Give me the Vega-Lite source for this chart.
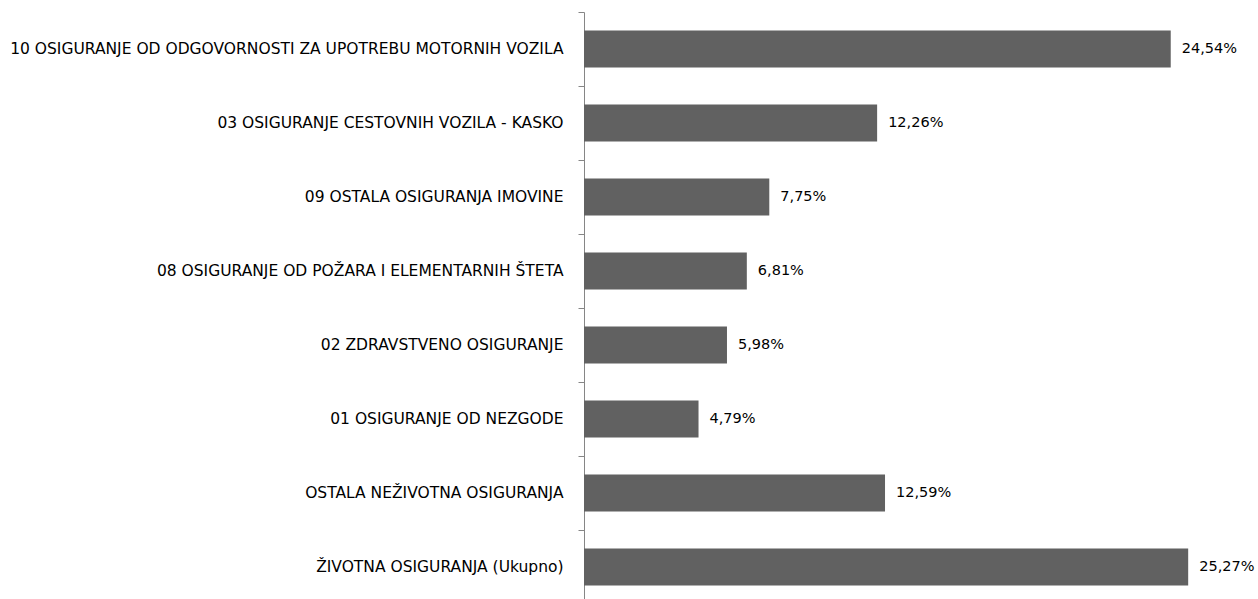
{
  "$schema": "https://vega.github.io/schema/vega-lite/v6.json",
  "autosize": {"type": "none"},
  "padding": {"left": 584, "top": 12, "right": 0, "bottom": 0},
  "width": 674,
  "height": 592,
  "background": "white",
  "config": {
    "view": {"stroke": null},
    "locale": {"number": {"decimal": ",", "thousands": ".", "grouping": [3], "currency": ["", ""]}},
    "font": "DejaVu Sans"
  },
  "data": {"values": [
    {"kategorija": "10 OSIGURANJE OD ODGOVORNOSTI ZA UPOTREBU MOTORNIH VOZILA", "udio": 0.2454},
    {"kategorija": "03 OSIGURANJE CESTOVNIH VOZILA - KASKO", "udio": 0.1226},
    {"kategorija": "09 OSTALA OSIGURANJA IMOVINE", "udio": 0.0775},
    {"kategorija": "08 OSIGURANJE OD POŽARA I ELEMENTARNIH ŠTETA", "udio": 0.0681},
    {"kategorija": "02 ZDRAVSTVENO OSIGURANJE", "udio": 0.0598},
    {"kategorija": "01 OSIGURANJE OD NEZGODE", "udio": 0.0479},
    {"kategorija": "OSTALA NEŽIVOTNA OSIGURANJA", "udio": 0.1259},
    {"kategorija": "ŽIVOTNA OSIGURANJA (Ukupno)", "udio": 0.2527}
  ]},
  "layer": [
    {
      "mark": {"type": "bar", "color": "#616161"},
      "encoding": {
        "y": {"field": "kategorija", "type": "nominal", "sort": null,
              "scale": {"paddingInner": 0.5, "paddingOuter": 0.25},
              "axis": {"title": null, "ticks": false, "domain": false, "labelPadding": 21,
                       "labelFontSize": 15.5, "labelColor": "#000000", "labelFont": "DejaVu Sans", "labelLimit": 700}},
        "x": {"field": "udio", "type": "quantitative", "scale": {"domain": [0, 0.2819], "nice": false, "zero": true}, "axis": null}
      }
    },
    {
      "mark": {"type": "text", "align": "left", "baseline": "middle", "dx": 11, "fontSize": 14.5, "font": "DejaVu Sans", "color": "#000000"},
      "encoding": {
        "y": {"field": "kategorija", "type": "nominal", "sort": null,
              "axis": {"title": null, "labels": false, "ticks": true, "tickSize": 6, "tickWidth": 1, "tickColor": "#868686",
                       "bandPosition": 0, "tickOffset": -18.5,
                       "domain": true, "domainColor": "#868686", "orient": "left"}},
        "x": {"field": "udio", "type": "quantitative"},
        "text": {"field": "udio", "type": "quantitative", "format": ".2%"}
      }
    }
  ],
  "resolve": {"axis": {"y": "independent"}}
}
